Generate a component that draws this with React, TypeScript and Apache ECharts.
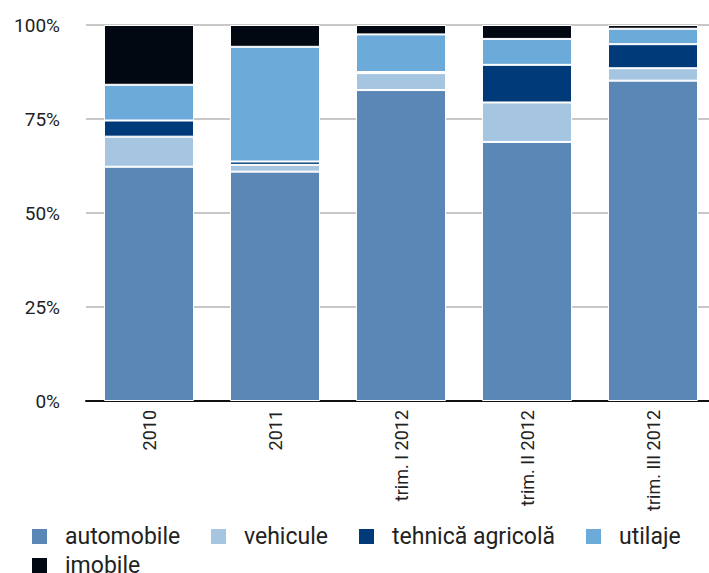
import React, { useEffect, useRef } from "react";
import * as echarts from "echarts";

const categories = ["2010", "2011", "trim. I 2012", "trim. II 2012", "trim. III 2012"];
const automobile = [62.3, 61.0, 82.7, 68.9, 85.2];
const vehicule = [8.0, 1.8, 4.5, 10.5, 3.3];
const tehnicaAgricola = [4.3, 0.9, 0.3, 10.0, 6.4];
const utilaje = [9.5, 30.5, 10.0, 6.9, 4.1];
const imobile = [15.9, 5.8, 2.5, 3.7, 1.0];
const yTicks = [0, 25, 50, 75, 100];

const seriesDefs = [
  { name: "automobile", data: automobile, color: "#5b87b7" },
  { name: "vehicule", data: vehicule, color: "#a5c5e0" },
  { name: "tehnică agricolă", data: tehnicaAgricola, color: "#003a78" },
  { name: "utilaje", data: utilaje, color: "#6caad9" },
  { name: "imobile", data: imobile, color: "#020812" },
];

// legend item placement (left, top) per series
const legendSlots = [
  [25, 520],
  [204, 520],
  [352, 520],
  [579, 520],
  [25, 549],
];

export default function App() {
  const ref = useRef<HTMLDivElement>(null);
  useEffect(() => {
    if (!ref.current) return;
    const chart = echarts.init(ref.current, undefined, { renderer: "svg" });
    const legendCommon = {
      itemWidth: 41,
      itemHeight: 17,
      itemGap: 0,
      icon: "path://M0,0L14,0L14,14L0,14Z",
      textStyle: { fontSize: 23, color: "#222" },
    };
    chart.setOption({
      animation: false,
      textStyle: { fontFamily: "Roboto" },
      grid: { left: 86, top: 25, width: 630, bottom: 172, containLabel: false },
      xAxis: {
        type: "category",
        data: categories,
        axisLine: { lineStyle: { color: "#111", width: 2 } },
        axisTick: { show: false },
        axisLabel: { rotate: 90, fontSize: 18, color: "#222", margin: 9 },
      },
      yAxis: {
        type: "value",
        min: yTicks[0],
        max: yTicks[yTicks.length - 1],
        interval: 25,
        axisLine: { show: false },
        axisTick: { show: false },
        splitLine: { lineStyle: { color: "#c8c8c8", width: 2 } },
        axisLabel: { formatter: "{value}%", fontSize: 19, color: "#222", margin: 26 },
      },
      legend: seriesDefs.map((s, i) => ({
        ...legendCommon,
        left: legendSlots[i][0],
        top: legendSlots[i][1],
        data: [s.name],
      })),
      series: seriesDefs.map((s) => ({
        name: s.name,
        type: "bar",
        stack: "total",
        data: s.data,
        barWidth: 90,
        itemStyle: { color: s.color, borderColor: "#ffffff", borderWidth: 1 },
      })),
    });
    return () => chart.dispose();
  }, []);
  return (
    <div style={{ width: 709, height: 573, position: "absolute", left: 0, top: 0, overflow: "hidden" }}>
      <div ref={ref} style={{ width: 730, height: 573 }} />
    </div>
  );
}
